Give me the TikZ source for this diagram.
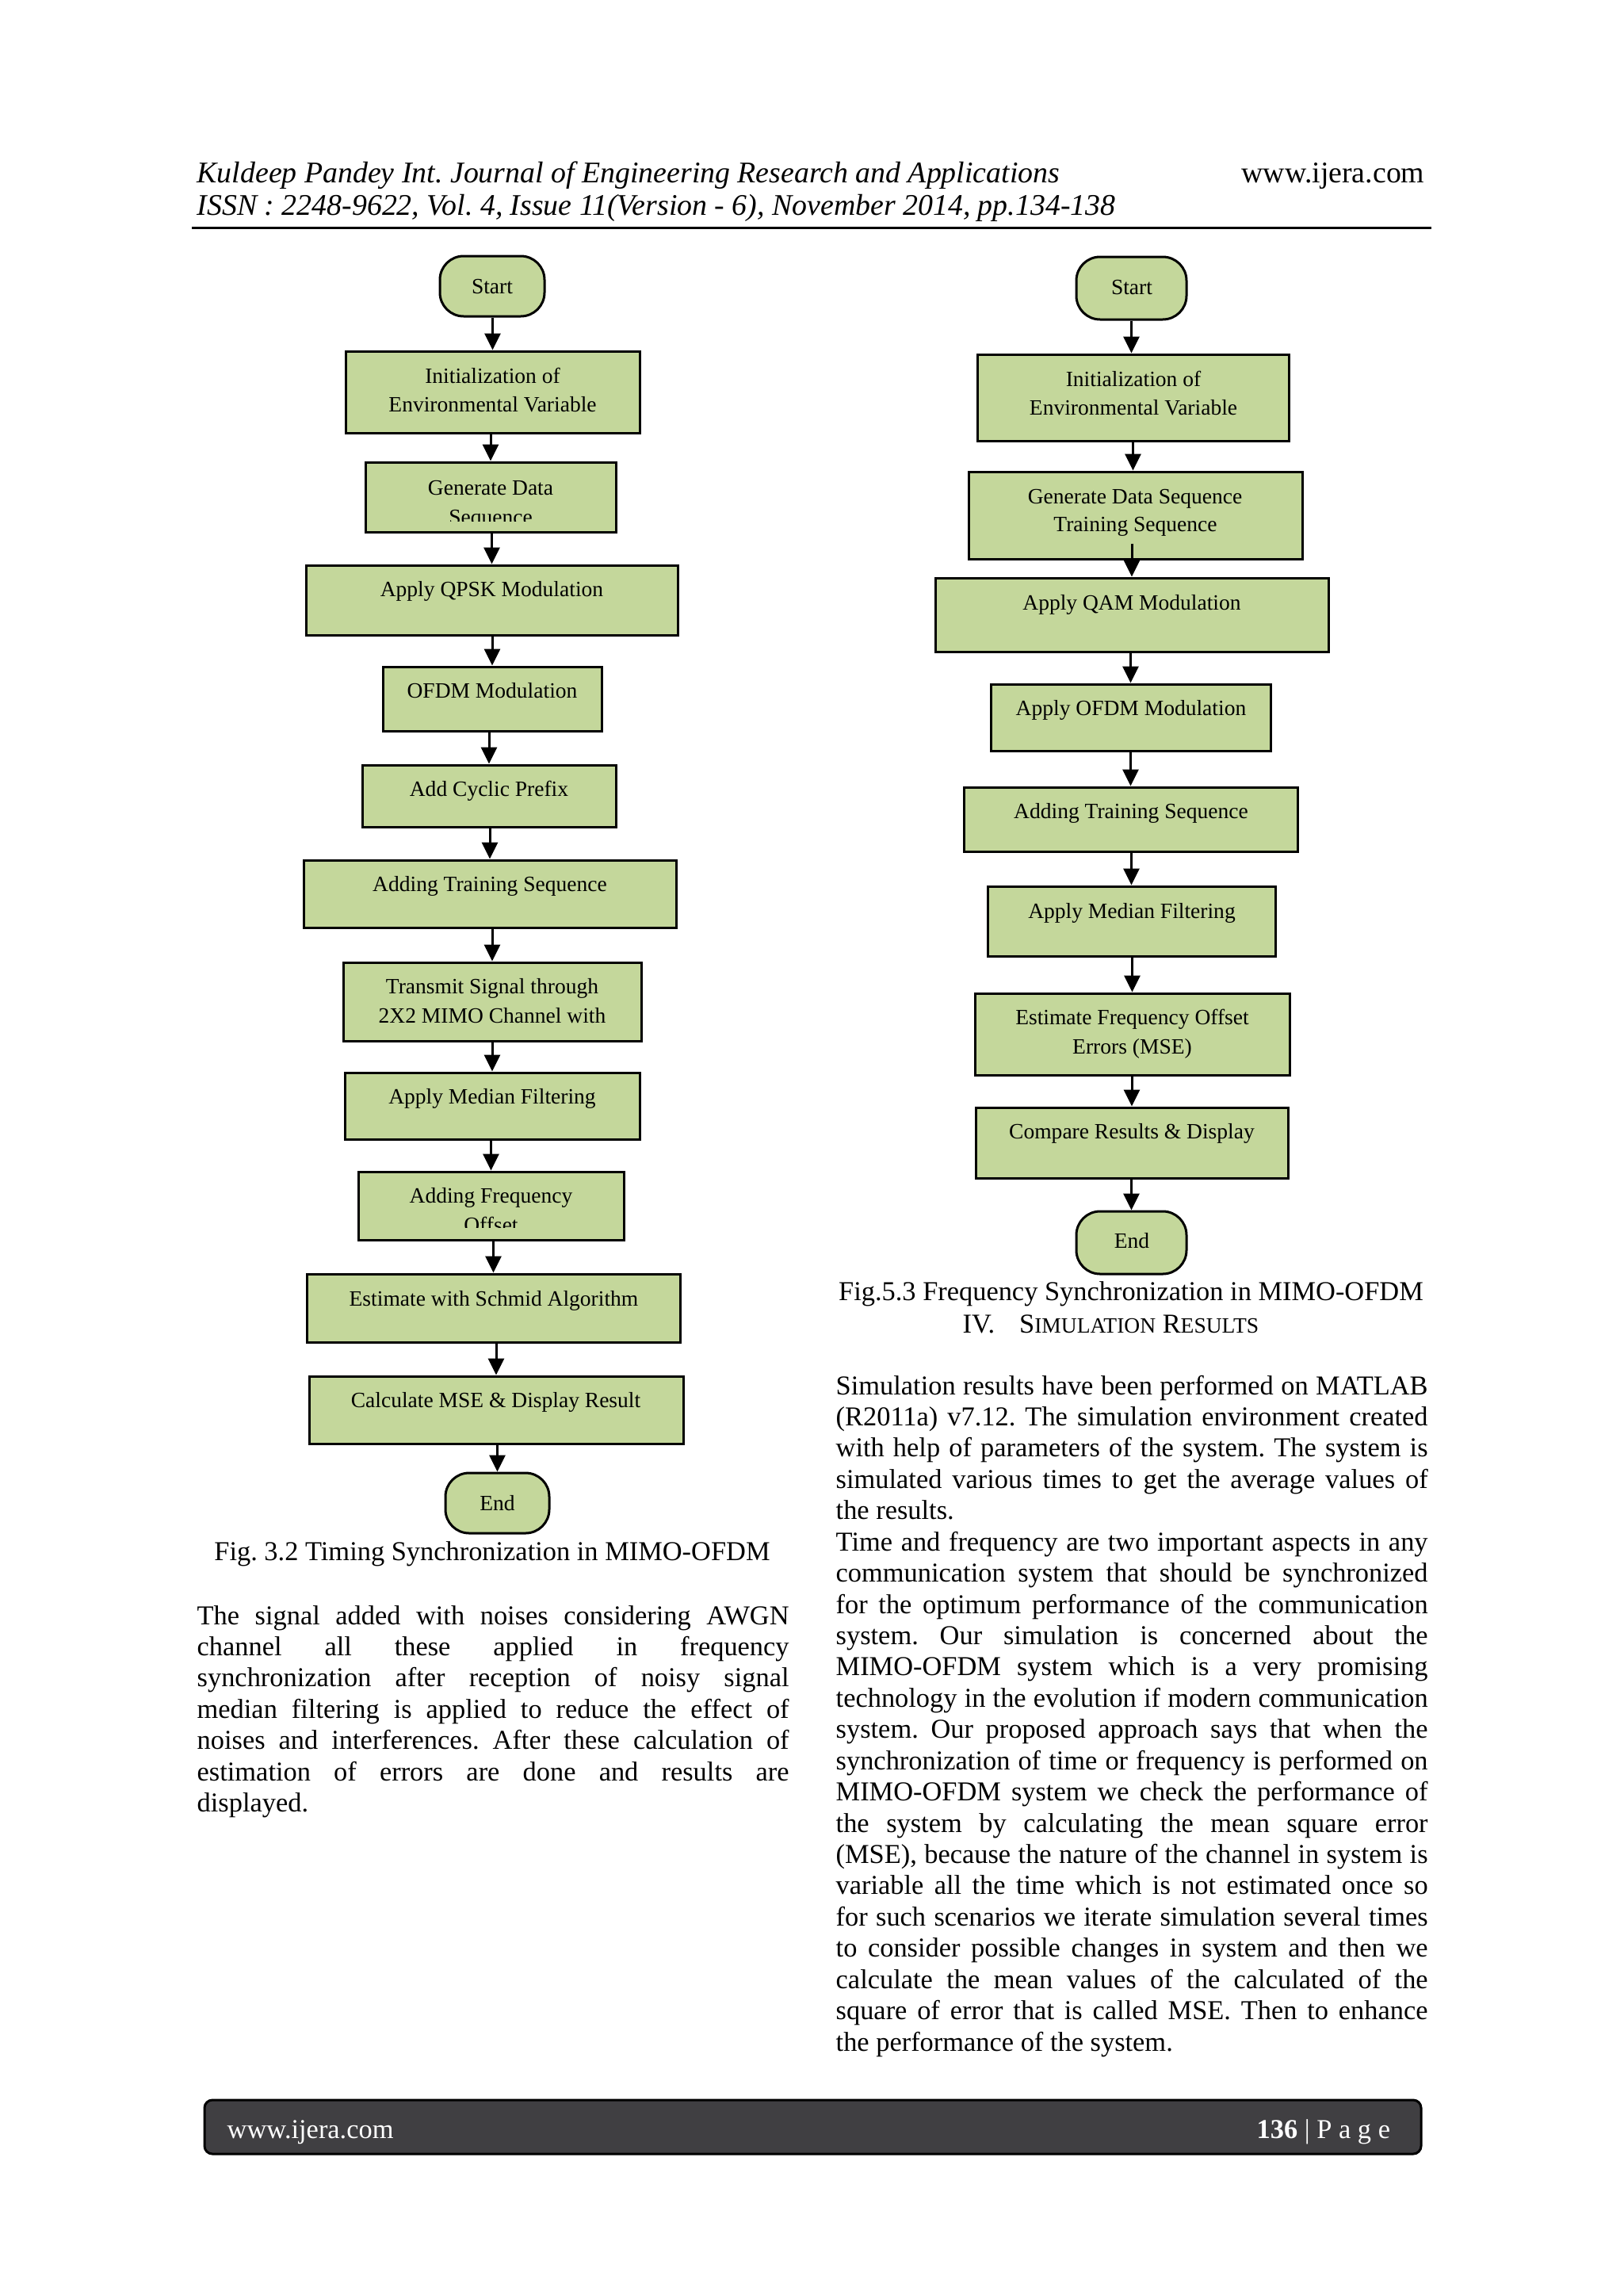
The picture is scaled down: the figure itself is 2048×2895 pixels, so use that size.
\documentclass[tikz,border=0pt]{standalone}
\usepackage{fontspec}
\setmainfont{Liberation Serif}
\usetikzlibrary{arrows.meta,calc}
\newdimen\pxu \pxu=0.290664pt
\definecolor{boxgreen}{RGB}{196,215,155}
\definecolor{footgray}{RGB}{64,63,66}
\frenchspacing
\newcommand\jline[1]{\hbox to 217.1pt{#1}}
\newcommand\lline[1]{\hbox to 217.1pt{#1\hfil}}
\newcommand\mkbox[6]{\node[#1, minimum width={(#5-#3)*\pxu}, minimum height={(#6-#4)*\pxu}] (#2) at ({(#3+#5)/2},{(#4+#6)/2}) {};}
\begin{document}
\begin{tikzpicture}[x=0.290664pt,y=-0.290664pt,
  box/.style={draw=black, line width=0.872pt, fill=boxgreen, inner sep=0pt},
  term/.style={box, rounded corners=8.7pt},
  btxt/.style={inner sep=0pt, anchor=base, font=\fontsize{8}{9.6}\selectfont},
  body/.style={inner sep=0pt, anchor=base west, font=\fontsize{10}{12}\selectfont\frenchspacing},
  figcap/.style={inner sep=0pt, anchor=base, font=\fontsize{10}{12}\selectfont\frenchspacing},
  hdr/.style={inner sep=0pt, font=\fontsize{11}{13}\selectfont\frenchspacing},
  arr/.style={line width=0.872pt, -{Triangle[width=5.8pt,length=6.1pt]}}]
\fill[white] (0,0) rectangle (2048,2895);
\useasboundingbox (0,0) rectangle (2048,2895);

% ---------- header ----------
\node[hdr, anchor=base west, font=\fontsize{11}{13}\selectfont\itshape\frenchspacing] (h1) at (248,230) {Kuldeep Pandey Int. Journal of Engineering Research and Applications};
\node[hdr, anchor=base east] (h2) at (1798,230) {www.ijera.com};
\node[hdr, anchor=base west, font=\fontsize{11}{13}\selectfont\itshape\frenchspacing] (h3) at (248,271) {ISSN : 2248-9622, Vol. 4, Issue 11(Version - 6), November 2014, pp.134-138};
\draw[line width=0.872pt] (242,287.5) -- (1806,287.5);

% ---------- left flowchart ----------
\mkbox{term}{lStart}{555}{323}{687}{399}
\mkbox{box}{lInit}{436}{443}{807}{546}
\mkbox{box}{lGen}{461}{583}{777}{671}
\mkbox{box}{lQpsk}{386}{713}{855}{801}
\mkbox{box}{lOfdm}{483}{841}{759}{922}
\mkbox{box}{lCp}{457}{965}{777}{1043}
\mkbox{box}{lTrain}{383}{1085}{853}{1170}
\mkbox{box}{lTx}{433}{1214}{809}{1313}
\mkbox{box}{lMed}{435}{1353}{807}{1437}
\mkbox{box}{lFo}{452}{1478}{787}{1564}
\mkbox{box}{lSch}{387}{1607}{858}{1693}
\mkbox{box}{lMse}{390}{1736}{862}{1821}
\mkbox{term}{lEnd}{562}{1858}{693}{1934}

\node[btxt] (tlStart) at (621,370) {Start};
\node[btxt] (tlInitA) at (621.5,483) {Initialization of};
\node[btxt] (tlInitB) at (621.5,519) {Environmental Variable};
\node[btxt] (tlGenA) at (619,624) {Generate Data};
\begin{scope}
\clip (461,583) rectangle (777,657);
\node[btxt] (tlGenB) at (619,661) {Sequence};
\end{scope}
\node[btxt] (tlQpsk) at (620.5,752) {Apply QPSK Modulation};
\node[btxt] (tlOfdm) at (621,880.5) {OFDM Modulation};
\node[btxt] (tlCp) at (617,1004) {Add Cyclic Prefix};
\node[btxt] (tlTrain) at (618,1124) {Adding Training Sequence};
\node[btxt] (tlTxA) at (621,1253) {Transmit Signal through};
\node[btxt] (tlTxB) at (621,1290) {2X2 MIMO Channel with};
\node[btxt] (tlMed) at (621,1392) {Apply Median Filtering};
\node[btxt] (tlFoA) at (619.5,1517) {Adding Frequency};
\begin{scope}
\clip (452,1478) rectangle (787,1548);
\node[btxt] (tlFoB) at (619.5,1554) {Offset};
\end{scope}
\node[btxt] (tlSch) at (623,1647) {Estimate with Schmid Algorithm};
\node[btxt] (tlMse) at (625.5,1775) {Calculate MSE \& Display Result};
\node[btxt] (tlEnd) at (627.5,1905) {End};

\draw[arr] (lInit.north |- lStart.south) -- (lInit.north);
\draw[arr] (lGen.north |- lInit.south) -- (lGen.north);
\draw[arr] (lQpsk.north |- lGen.south) -- (lQpsk.north);
\draw[arr] (lOfdm.north |- lQpsk.south) -- (lOfdm.north);
\draw[arr] (lCp.north |- lOfdm.south) -- (lCp.north);
\draw[arr] (lTrain.north |- lCp.south) -- (lTrain.north);
\draw[arr] (lTx.north |- lTrain.south) -- (lTx.north);
\draw[arr] (lMed.north |- lTx.south) -- (lMed.north);
\draw[arr] (lFo.north |- lMed.south) -- (lFo.north);
\draw[arr] (lSch.north |- lFo.south) -- (lSch.north);
\draw[arr] (lMse.north |- lSch.south) -- (lMse.north);
\draw[arr] (lEnd.north |- lMse.south) -- (lEnd.north);

\node[figcap] (capL) at (621,1968) {Fig. 3.2 Timing Synchronization in MIMO-OFDM};

% ---------- right flowchart ----------
\mkbox{term}{rStart}{1358}{324}{1497}{403}
\mkbox{box}{rInit}{1233}{447}{1626}{556}
\mkbox{box}{rGen}{1222}{595}{1643}{705}
\mkbox{box}{rQam}{1180}{729}{1676}{822}
\mkbox{box}{rOfdm}{1250}{863}{1603}{947}
\mkbox{box}{rTrain}{1216}{993}{1637}{1074}
\mkbox{box}{rMed}{1246}{1118}{1609}{1206}
\mkbox{box}{rFo}{1230}{1253}{1627}{1356}
\mkbox{box}{rCmp}{1231}{1397}{1625}{1486}
\mkbox{term}{rEnd}{1358}{1528}{1497}{1607}

\node[btxt] (trStart) at (1428,371) {Start};
\node[btxt] (trInitA) at (1430,487) {Initialization of};
\node[btxt] (trInitB) at (1430,523.5) {Environmental Variable};
\node[btxt] (trGenA) at (1432,635) {Generate Data Sequence};
\node[btxt] (trGenB) at (1432.5,670) {Training Sequence};
\node[btxt] (trQam) at (1428,769) {Apply QAM Modulation};
\node[btxt] (trOfdm) at (1427,902) {Apply OFDM Modulation};
\node[btxt] (trTrain) at (1427,1032) {Adding Training Sequence};
\node[btxt] (trMed) at (1428,1158.5) {Apply Median Filtering};
\node[btxt] (trFoA) at (1428.5,1292) {Estimate Frequency Offset};
\node[btxt] (trFoB) at (1428.5,1329.5) {Errors (MSE)};
\node[btxt] (trCmp) at (1428,1436.6) {Compare Results \& Display};
\node[btxt] (trEnd) at (1428,1574) {End};

\draw[arr] (rStart.south) -- (rStart.south |- rInit.north);
\draw[arr] (rInit.south) -- (rInit.south |- rGen.north);
\draw[arr] ($(rQam.north |- rGen.south)+(0,-21)$) -- (rQam.north);
\draw[arr] (rOfdm.north |- rQam.south) -- (rOfdm.north);
\draw[arr] (rTrain.north |- rOfdm.south) -- (rTrain.north);
\draw[arr] (rMed.north |- rTrain.south) -- (rMed.north);
\draw[arr] (rFo.north |- rMed.south) -- (rFo.north);
\draw[arr] (rCmp.north |- rFo.south) -- (rCmp.north);
\draw[arr] (rEnd.north |- rCmp.south) -- (rEnd.north);

\node[figcap] (capR) at (1427,1640) {Fig.5.3 Frequency Synchronization in MIMO-OFDM};
\node[body] (sec) at (1214,1681) {IV.\hspace{9pt}S{\fontsize{8}{9.6}\selectfont IMULATION} R{\fontsize{8}{9.6}\selectfont ESULTS}};

% ---------- left column text ----------
\node[body] (l1) at (248,2049) {\jline{The signal added with noises considering AWGN}};
\node[body] (l2) at (248,2088.4) {\jline{channel all these applied in frequency}};
\node[body] (l3) at (248,2127.8) {\jline{synchronization after reception of noisy signal}};
\node[body] (l4) at (248,2167.2) {\jline{median filtering is applied to reduce the effect of}};
\node[body] (l5) at (248,2206.6) {\jline{noises and interferences. After these calculation of}};
\node[body] (l6) at (248,2246) {\jline{estimation of errors are done and results are}};
\node[body] (l7) at (248,2285.4) {\lline{displayed.}};

% ---------- right column text ----------
\node[body] (r1) at (1054,1759) {\jline{Simulation results have been performed on MATLAB}};
\node[body] (r2) at (1054,1798.4) {\jline{(R2011a) v7.12. The simulation environment created}};
\node[body] (r3) at (1054,1837.9) {\jline{with help of parameters of the system. The system is}};
\node[body] (r4) at (1054,1877.3) {\jline{simulated various times to get the average values of}};
\node[body] (r5) at (1054,1916.7) {\lline{the results.}};
\node[body] (r6) at (1054,1956.2) {\jline{Time and frequency are two important aspects in any}};
\node[body] (r7) at (1054,1995.6) {\jline{communication system that should be synchronized}};
\node[body] (r8) at (1054,2035.0) {\jline{for the optimum performance of the communication}};
\node[body] (r9) at (1054,2074.4) {\jline{system. Our simulation is concerned about the}};
\node[body] (r10) at (1054,2113.9) {\jline{MIMO-OFDM system which is a very promising}};
\node[body] (r11) at (1054,2153.3) {\jline{technology in the evolution if modern communication}};
\node[body] (r12) at (1054,2192.7) {\jline{system. Our proposed approach says that when the}};
\node[body] (r13) at (1054,2232.2) {\jline{synchronization of time or frequency is performed on}};
\node[body] (r14) at (1054,2271.6) {\jline{MIMO-OFDM system we check the performance of}};
\node[body] (r15) at (1054,2311.0) {\jline{the system by calculating the mean square error}};
\node[body] (r16) at (1054,2350.5) {\jline{(MSE), because the nature of the channel in system is}};
\node[body] (r17) at (1054,2389.9) {\jline{variable all the time which is not estimated once so}};
\node[body] (r18) at (1054,2429.3) {\jline{for such scenarios we iterate simulation several times}};
\node[body] (r19) at (1054,2468.7) {\jline{to consider possible changes in system and then we}};
\node[body] (r20) at (1054,2508.2) {\jline{calculate the mean values of the calculated of the}};
\node[body] (r21) at (1054,2547.6) {\jline{square of error that is called MSE. Then to enhance}};
\node[body] (r22) at (1054,2587.0) {\lline{the performance of the system.}};

% ---------- footer ----------
\node[draw=black, line width=0.872pt, fill=footgray, rounded corners=2.9pt, inner sep=0pt,
  minimum width={(1793-258)*\pxu}, minimum height={(2717-2649)*\pxu}] (foot) at (1025.5,2683) {};
\node[body, text=white] (fl) at (286,2697) {www.ijera.com};
\node[body, text=white] (fr) at (1585,2697) {\textbf{136} | P a g e};
\end{tikzpicture}
\end{document}
